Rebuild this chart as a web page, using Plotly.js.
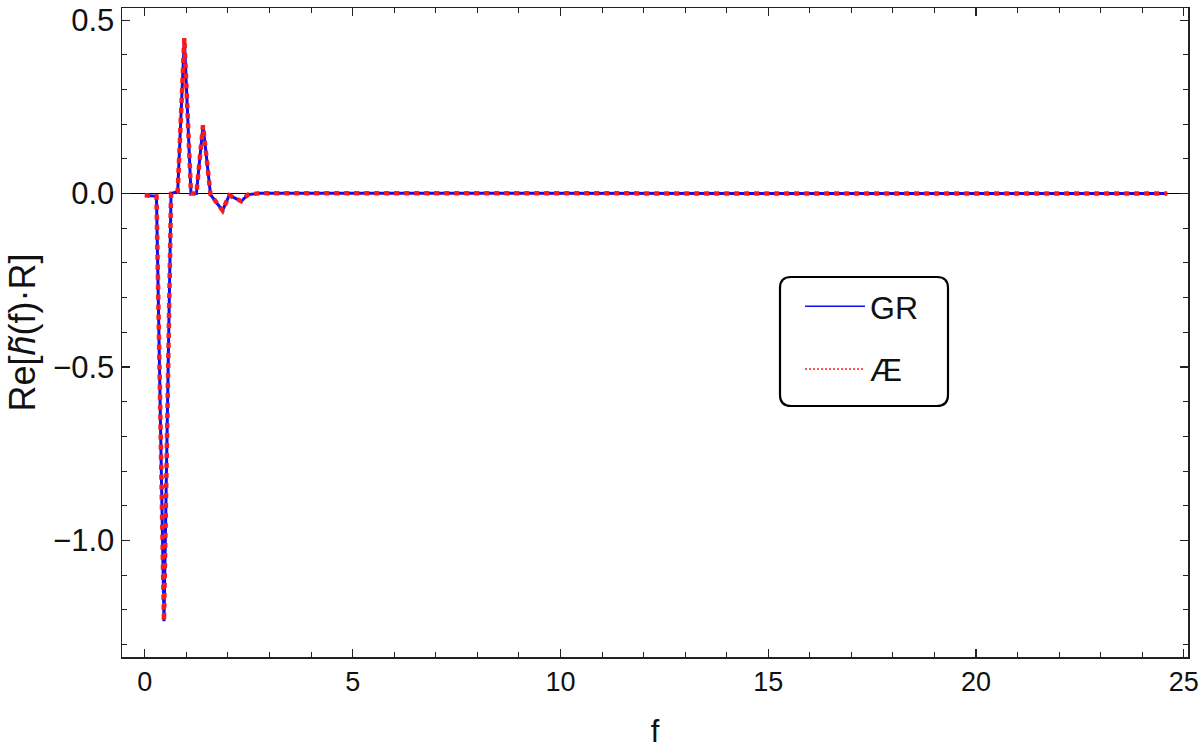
<!DOCTYPE html>
<html>
<head>
<meta charset="utf-8">
<script src="https://cdn.plot.ly/plotly-3.0.1.min.js"></script>
<style>html,body{margin:0;padding:0;background:#fff;}#chart{width:1200px;height:749px;}</style>
</head>
<body>
<div id="chart"></div>
<script>
// Frequency samples f and Re[h~(f)·R] values
const f = [0, 0.28, 0.46, 0.63, 0.79, 0.95, 1.11, 1.24, 1.40, 1.58, 1.87, 2.03, 2.32, 2.48, 2.76, 24.6];
const reGR = [-0.005, -0.008, -1.233, 0.0, 0.006, 0.448, 0.0, 0.0, 0.197, -0.003, -0.049, -0.005, -0.022, -0.003, 0.001, 0.0];
const reAE = [-0.005, -0.008, -1.233, 0.0, 0.006, 0.448, 0.0, 0.0, 0.197, -0.003, -0.049, -0.005, -0.022, -0.003, 0.001, 0.0];
const seriesNames = ["GR", "Æ"];
const xTicks = [0, 5, 10, 15, 20, 25];
const yTicks = [0.5, 0.0, -0.5, -1.0];
const yTickText = ["0.5", "0.0", "\u22120.5", "\u22121.0"];

const FONT = "Liberation Sans, Arial, sans-serif";
const blue = "#1010ee";
const red = "#ff1a1a";

const traces = [
  {x: f, y: reGR, type: "scatter", mode: "lines", name: seriesNames[0], showlegend: false,
   line: {color: blue, width: 3}},
  {x: f, y: reAE, type: "scatter", mode: "lines", name: seriesNames[1], showlegend: false,
   line: {color: red, width: 4.5, dash: "5px,5px"}},
  {x: [null], y: [null], type: "scatter", mode: "lines", name: seriesNames[0], legendgroup: "a",
   line: {color: blue, width: 1.5}},
  {x: [null], y: [null], type: "scatter", mode: "lines", name: seriesNames[1], legendgroup: "b",
   line: {color: red, width: 1.5, dash: "2px,2px"}}
];

// rounded legend frame (paper coordinates)
const L = 122, T = 8, W = 1066, H = 649;
function px(x){return (x - L)/W;}
function py(y){return (T + H - y)/H;}
const bx0 = px(780), bx1 = px(948), by0 = py(406), by1 = py(277);
const rx = 11/W, ry = 11/H;
const boxPath = `M ${bx0+rx},${by1} L ${bx1-rx},${by1} Q ${bx1},${by1} ${bx1},${by1-ry} L ${bx1},${by0+ry} Q ${bx1},${by0} ${bx1-rx},${by0} L ${bx0+rx},${by0} Q ${bx0},${by0} ${bx0},${by0+ry} L ${bx0},${by1-ry} Q ${bx0},${by1} ${bx0+rx},${by1} Z`;

const layout = {
  width: 1200, height: 749,
  margin: {l: 122, r: 12, t: 8, b: 92},
  paper_bgcolor: "#fff", plot_bgcolor: "#fff",
  font: {family: FONT, size: 26, color: "#111"},
  showlegend: true,
  legend: {x: px(800), y: py(279), xanchor: "left", yanchor: "top",
           bgcolor: "rgba(0,0,0,0)", borderwidth: 0, tracegroupgap: 18,
           itemwidth: 60, font: {family: FONT, size: 32, color: "#111"}},
  xaxis: {
    range: [-0.55, 25.1], showgrid: false, zeroline: false,
    showline: true, linecolor: "#222", linewidth: 1.5, mirror: "allticks",
    ticks: "inside", ticklen: 8, tickwidth: 1.2, tickcolor: "#222",
    tickvals: xTicks, ticktext: xTicks.map(String), ticklabeloverflow: "allow",
    minor: {dtick: 1, tick0: 0, ticks: "inside", ticklen: 5, tickwidth: 1, tickcolor: "#222"},
    tickfont: {family: FONT, size: 27, color: "#111"},
    title: {text: "f", font: {family: FONT, size: 31, color: "#111"}, standoff: 26}
  },
  yaxis: {
    range: [-1.336, 0.535], showgrid: false,
    zeroline: true, zerolinecolor: "#000", zerolinewidth: 1.5,
    showline: true, linecolor: "#222", linewidth: 1.5, mirror: "allticks",
    ticks: "inside", ticklen: 8, tickwidth: 1.2, tickcolor: "#222",
    tickvals: yTicks, ticktext: yTickText,
    minor: {dtick: 0.1, tick0: 0, ticks: "inside", ticklen: 5, tickwidth: 1, tickcolor: "#222"},
    tickfont: {family: FONT, size: 31, color: "#111"},
    title: {text: "Re[<i>h\u0303</i>(f)\u00b7R]", font: {family: FONT, size: 36, color: "#111"}, standoff: 6}
  },
  shapes: [{type: "path", xref: "paper", yref: "paper", path: boxPath,
            line: {color: "#000", width: 2.2}, fillcolor: "#fff", layer: "above"}]
};

Plotly.newPlot("chart", traces, layout, {displayModeBar: false, staticPlot: true});
</script>
</body>
</html>
